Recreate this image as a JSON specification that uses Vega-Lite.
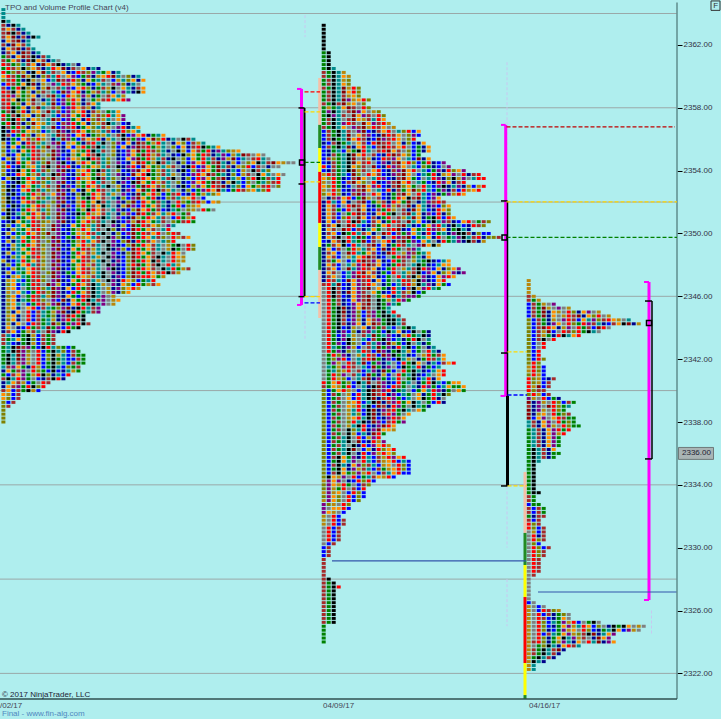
{"$schema":"https://vega.github.io/schema/vega-lite/v6.json","width":677,"height":699,"autosize":"none","padding":{"left":0,"top":0,"right":44,"bottom":20},"background":"#AFEEEE","config":{"view":{"stroke":null}},
"datasets":{
"p1":[
{"p":2364.25,"c":[5]},{"p":2364,"c":[5]},{"p":2363.75,"c":[5]},{"p":2363.5,"c":[4,5]},
{"p":2363.25,"c":[6,3,4,5]},{"p":2363,"c":[6,8,6,3,5]},{"p":2362.75,"c":[6,12,4,6,3,5]},{"p":2362.5,"c":[6,8,12,3,6,3,4,5]},
{"p":2362.25,"c":[3,8,6,12,3,5]},{"p":2362,"c":[6,3,12,8,6,5]},{"p":2361.75,"c":[3,8,6,12,3,6,5]},{"p":2361.5,"c":[3,6,8,3,12,6,3,5]},
{"p":2361.25,"c":[7,6,3,8,12,6,4,3,6,5]},{"p":2361,"c":[6,7,8,6,3,12,4,8,6,3,5,0]},{"p":2360.75,"c":[1,6,7,10,5,6,8,3,12,8,6,4,3,5,0,3]},{"p":2360.5,"c":[7,1,6,11,4,10,8,6,3,5,1,8,12,3,6,0,8,3,5,3]},
{"p":2360.25,"c":[1,7,10,6,11,3,4,8,12,5,6,0,8,3,2,1,6,10,9,5,7,8,3,5]},{"p":2360,"c":[8,1,6,7,12,11,4,3,10,6,5,1,0,8,9,2,7,6,3,11,8,1,12,5,0,10,3,5]},{"p":2359.75,"c":[10,6,1,7,3,4,11,0,8,2,5,12,6,9,1,10,3,8,7,5,6,0,2,11,5,10,8,3,8]},{"p":2359.5,"c":[2,1,6,7,8,4,12,3,11,0,9,5,1,6,8,10,7,3,2,11,5,0,6,9,10,3,5,0]},
{"p":2359.25,"c":[6,2,7,1,4,10,8,3,11,12,0,6,5,9,2,8,1,10,3,7,6,11,4,0,8,5,3,6,8]},{"p":2359,"c":[1,6,4,8,7,11,3,10,6,0,5,2,12,9,8,1,3,7,11,6,5,10,2,0,9,5,3,4,8]},{"p":2358.75,"c":[6,1,9,11,7,10,8,3,0,6,12,5,2,1,8,10,9,11,3,7,0,6,8,5,11]},{"p":2358.5,"c":[1,6,8,4,7,11,12,0,3,5,6,2,9,10,1,8,3,0,7,11,6,1,5,8,1,9]},
{"p":2358.25,"c":[6,1,7,10,3,8,6,0,11,5,12,2,9,7,1,10,3,6,8,5]},{"p":2358,"c":[6,1,4,7,8,3,11,12,5,0,6,10,2,9,1,8,6,11,3,5]},{"p":2357.75,"c":[7,6,4,10,1,3,11,8,0,12,5,6,2,9,10,8,1,3,6,11,0,7,5,8]},{"p":2357.5,"c":[1,7,6,4,11,8,3,10,12,0,5,2,6,9,8,7,1,3,11,6,10,1,5,8,9]},
{"p":2357.25,"c":[6,7,4,1,10,3,8,11,0,5,12,6,2,9,7,8,3,1,10,6,11,5,0,8,9]},{"p":2357,"c":[7,1,4,6,3,10,12,8,11,5,0,2,6,9,1,7,8,3,10,11,6,4,5,0,2,3]},{"p":2356.75,"c":[4,6,7,1,10,3,11,8,5,0,12,2,9,6,1,3,7,8,10,5,6,11,0,9,1,3,5,8]},{"p":2356.5,"c":[4,3,1,6,7,8,11,10,2,5,0,12,9,3,6,1,8,7,10,11,5,6,2,3,1,10,8,5]},
{"p":2356.25,"c":[4,6,2,7,1,10,3,11,8,0,5,12,6,9,2,8,1,3,7,10,11,5,0,6,4,2,9,8,1,3,7,5,8]},{"p":2356,"c":[4,3,7,2,8,6,10,1,11,0,3,5,12,9,7,2,6,8,10,1,3,11,5,0,4,6,7,9,2,8,12,10,1,3,5,0,4,6,5]},{"p":2355.75,"c":[11,2,7,8,3,1,6,10,5,0,9,12,2,11,8,7,3,6,1,5,4,0,10,9,2,8,3,12,6,7,11,1,5,0,3,8,10,2,6,11,5]},{"p":2355.5,"c":[11,3,8,2,7,6,1,5,10,12,0,9,3,8,2,11,1,7,6,4,5,0,10,2,8,3,9,12,6,1,7,11,5,0,10,2,8,3,6,1,4,7,5,8]},
{"p":2355.25,"c":[10,2,5,3,8,7,1,6,11,0,12,9,3,2,8,10,7,1,4,5,6,0,11,3,2,9,8,12,7,1,6,10,5,3,0,4,11,2,8,6,7,1,3,9,5,10,11,8]},{"p":2355,"c":[11,3,2,8,7,5,1,6,0,10,12,9,2,3,11,7,8,1,6,4,5,0,10,3,2,9,8,7,12,1,11,6,5,0,3,2,4,10,8,7,1,6,3,5,9,2,11,5,12,6,0,8,0]},{"p":2354.75,"c":[2,11,3,8,5,7,1,6,10,0,12,3,2,9,8,11,7,4,1,6,5,10,0,3,2,8,9,12,7,1,11,5,6,3,4,0,10,2,8,7,1,5,6,3,9,11,12,2,5,0,6,1,5,0]},{"p":2354.5,"c":[11,2,3,1,7,8,6,5,10,12,0,9,4,2,3,11,1,8,7,6,5,10,0,9,2,3,8,12,1,7,11,4,6,5,0,3,10,2,9,8,1,7,6,12,5,3,11,2,0,10,8,4,5,6,12,8,11,0,0]},
{"p":2354.25,"c":[10,1,2,3,7,11,8,5,6,4,0,12,9,1,3,2,10,7,8,11,5,6,0,4,3,9,1,2,12,8,7,10,5,11,6,0,3,4,1,2,9,8,7,12,5,6,3,11,10,1,2,6,0,3,0,0]},{"p":2354,"c":[11,2,3,4,8,7,1,5,6,10,0,9,12,3,2,11,8,1,7,4,6,5,0,10,2,3,9,12,8,1,7,11,6,5,0,3,4,2,10,9,1,8,7,12,6,3,5,2,11,0,4,6,5,10]},{"p":2353.75,"c":[10,3,2,1,8,7,11,6,5,0,4,12,9,2,3,10,1,8,7,6,11,5,0,9,3,2,12,8,1,4,7,10,6,5,11,0,3,2,9,1,8,12,6,7,5,3,10,2,11,6,0,4,8,5,0,8,0]},{"p":2353.5,"c":[2,11,4,3,7,1,8,5,6,10,12,0,9,3,2,1,11,8,7,4,6,5,10,0,3,9,2,12,1,8,7,11,5,6,4,0,3,10,2,1,9,8,7,6,12,3,5,11,2,10,1,4,7,6,5,1]},
{"p":2353.25,"c":[11,2,3,4,7,8,1,6,10,5,0,9,12,2,3,11,7,8,1,5,6,0,10,3,9,2,4,12,8,7,1,11,6,5,0,10,3,2,9,8,1,7,12,6,3,11,4,5,2,10,0,7,5,10,6,1]},{"p":2353,"c":[10,3,4,2,1,8,7,5,11,6,0,12,3,9,2,10,7,1,8,6,5,4,0,11,3,2,9,7,12,1,8,6,10,5,0,3,4,2,11,9,8,7,1,6,12,3,5,10,2,8,7,11,6,1,0,10]},{"p":2352.75,"c":[11,4,3,2,8,1,7,6,5,10,0,12,9,3,11,2,4,8,7,1,6,0,5,10,3,9,2,8,12,7,1,4,6,11,5,0,3,10,2,7,9,1,8,12,5,2,7,1,6,11,8,5,10,1]},{"p":2352.5,"c":[10,3,4,2,5,7,1,11,6,0,8,9,12,2,3,10,4,7,1,8,6,5,11,0,9,2,3,12,7,8,1,10,2,7,6,1,2,3,1,7,11,5,10,8]},
{"p":2352.25,"c":[11,4,2,3,1,7,8,6,10,5,0,12,9,3,2,11,7,4,1,8,6,0,5,3,10,2,9,12,8,7,1,3,2,10,6,5,11,8,1,0,2]},{"p":2352,"c":[11,4,3,2,8,1,6,7,5,0,10,9,12,2,3,11,1,7,8,4,6,5,0,9,3,10,12,2,1,8,7,6,5,3,0,1,10,7,6,1,11,2,8,11]},{"p":2351.75,"c":[10,2,4,3,5,7,8,1,6,11,0,12,3,9,2,10,1,7,6,8,4,5,0,3,11,12,9,2,1,7,8,6,5,3,7,1,2,10,11,8]},{"p":2351.5,"c":[11,4,3,2,7,1,8,6,5,10,0,9,12,3,2,7,11,4,1,8,6,0,5,9,3,2,10,12,8,1,7,6,2,3,5,7,0,10,11,0,1,7,0]},
{"p":2351.25,"c":[2,4,3,5,11,7,1,8,6,10,0,12,9,2,3,4,7,1,11,8,6,5,0,3,10,9,2,12,1,7,6,8,5,11,1,0,7,6]},{"p":2351,"c":[10,4,2,3,7,8,1,11,6,5,0,12,9,3,2,7,10,8,1,6,4,5,0,9,2,3,12,11,7,1,8,5,6,0,2,1,7,11,1]},{"p":2350.75,"c":[2,3,4,8,7,5,1,6,10,11,0,9,12,3,2,7,8,1,10,6,5,0,4,3,2,9,11,12,1,8,7,5,6,0,10,7,6,1,7]},{"p":2350.5,"c":[3,10,2,5,8,7,1,6,11,0,12,9,3,2,8,7,1,10,5,6,4,0,9,3,11,2,12,7,1,6,8,10,0,9,5]},
{"p":2350.25,"c":[2,3,11,5,7,8,6,1,10,0,12,9,2,3,7,11,1,8,5,6,0,4,10,3,9,2,12,1,7,8,6,0,5,1]},{"p":2350,"c":[3,11,2,7,5,1,8,6,10,12,0,9,3,2,7,8,11,1,6,5,4,0,3,10,2,9,12,7,1,6,8,1,0,10,1,6]},{"p":2349.75,"c":[2,3,11,5,8,7,1,6,10,0,12,9,2,7,3,1,11,8,5,6,0,4,9,10,3,2,12,7,1,8,5,6,10,0,1,11,6,8]},{"p":2349.5,"c":[2,11,3,5,1,7,8,6,0,10,9,12,2,3,7,11,1,5,8,6,4,0,9,2,10,12,3,1,7,6,8,0,5,10,1]},
{"p":2349.25,"c":[3,2,11,5,7,1,8,6,10,0,12,9,3,2,7,8,1,11,6,5,0,4,9,3,2,10,12,7,1,8,6,5,0,11,7,4,0,1,10]},{"p":2349,"c":[2,3,10,5,8,7,1,6,11,0,9,12,2,3,8,7,1,6,11,5,0,4,3,9,10,2,12,1,7,8,6,5,0,11,4,7,0,1,10]},{"p":2348.75,"c":[3,11,2,5,7,8,1,6,10,0,12,9,3,2,7,1,8,6,11,5,4,0,9,2,3,10,12,1,8,7,6,0,4,5,1,8,0]},{"p":2348.5,"c":[2,3,10,5,8,7,6,1,11,0,12,9,2,3,7,8,1,6,5,11,0,4,9,3,2,10,12,1,7,8,6,4,5,0,1,8,11]},
{"p":2348.25,"c":[11,3,2,5,1,7,8,6,10,0,9,12,3,2,8,7,1,6,11,5,4,0,3,9,2,10,12,7,1,8,4,6,5,0,1,11,11]},{"p":2348,"c":[3,10,2,7,8,1,5,6,11,0,12,9,2,3,7,8,1,11,6,5,0,4,9,3,2,10,1,12,7,8,6,4,0,1,5,11]},{"p":2347.75,"c":[3,2,11,7,5,8,1,6,10,0,9,12,3,2,7,8,1,6,11,5,0,9,4,3,2,10,12,7,1,8,6,0,4,5,1,7,11,6]},{"p":2347.5,"c":[3,11,2,5,7,8,1,6,0,10,12,9,3,7,2,8,1,6,11,5,4,0,9,3,2,10,12,1,7,1,8,6,1,4,6,11]},
{"p":2347.25,"c":[2,3,11,8,5,7,1,6,10,0,12,9,2,3,7,1,8,11,6,5,4,0,3,9,2,10,12,6,1,1,8,7,11]},{"p":2347,"c":[3,11,8,5,2,7,6,1,10,0,9,12,3,2,8,7,1,6,5,11,0,4,9,3,1,8,10,2,7,5,1]},{"p":2346.75,"c":[3,10,8,2,5,7,1,6,0,12,9,11,2,3,7,1,8,6,4,5,11,0,9,3,8,10,2,1,7,11,6,8]},{"p":2346.5,"c":[3,11,8,2,0,7,6,1,10,5,12,9,3,8,2,1,7,6,4,5,0,11,3,9,10,8,1,11]},
{"p":2346.25,"c":[3,11,0,8,5,2,7,1,6,10,12,9,3,2,1,7,8,6,4,5,0,11,9,3,10,8]},{"p":2346,"c":[3,10,8,2,0,7,1,6,5,11,12,9,3,8,7,2,1,6,4,5,9,0,11]},{"p":2345.75,"c":[3,11,8,3,5,7,1,6,10,0,9,2,12,3,8,7,1,4,5,6,9,0,11,8]},{"p":2345.5,"c":[3,10,8,5,0,2,7,1,6,11,9,12,3,2,8,1,7,6,4,5,9,0,11]},
{"p":2345.25,"c":[3,11,8,3,0,8,1,2,6,5,7,10,9,12,3,4,1,5,6,9]},{"p":2345,"c":[3,10,3,8,0,1,2,6,5,7,11,9,12,3,4,1,7,5,6,9]},{"p":2344.75,"c":[3,11,8,3,0,1,2,6,5,7,10,3,9,12,1,7,4]},{"p":2344.5,"c":[3,10,8,3,0,1,2,6,7,5,11,3,9,1,7,6,4]},
{"p":2344.25,"c":[3,11,3,8,0,2,1,6,7,5,12,10,3,7,9,1,4,6]},{"p":2344,"c":[3,8,0,3,2,1,7,6,5,12,7,9,2,1,7,4]},{"p":2343.75,"c":[3,6,8,2,7,11,6,5,0,12,9,3,1,4]},{"p":2343.5,"c":[6,5,2,3,7,4,11,2,6,7,6]},
{"p":2343.25,"c":[6,7,5,8,7,4,10,2,6,7,6]},{"p":2343,"c":[6,5,2,3,7,4,11,2,6,7,6]},{"p":2342.75,"c":[7,5,4,12,6,9,7,2,4,1,5,10,7,2,7]},{"p":2342.5,"c":[7,5,4,12,9,10,0,1,2,7,4,5,10,2,6,7]},
{"p":2342.25,"c":[7,4,5,12,9,11,0,1,2,10,4,11,5,2,6,7,7]},{"p":2342,"c":[7,4,5,12,9,11,0,1,2,10,4,7,5,2,2,6,7]},{"p":2341.75,"c":[7,4,5,6,9,11,0,1,2,7,4,10,5,2,6,7,7]},{"p":2341.5,"c":[5,6,9,8,7,3,1,11,2,7,4,5,2,10,7,6]},
{"p":2341.25,"c":[3,8,7,6,9,0,1,10,7,2,4,2,3,5,11,7]},{"p":2341,"c":[7,2,6,8,9,7,11,1,4,10,3,5,2,1]},{"p":2340.75,"c":[6,4,5,1,9,7,0,2,3,6,4,1,3]},{"p":2340.5,"c":[3,5,8,6,11,2,7,0,1,6]},
{"p":2340.25,"c":[3,8,6,9,7,1,4,10,1]},{"p":2340,"c":[6,8,2,6,7,4,11,2]},{"p":2339.75,"c":[8,11,2,6]},{"p":2339.5,"c":[8,10,2,6]},
{"p":2339.25,"c":[10,2,6]},{"p":2339,"c":[10,6]},{"p":2338.75,"c":[10]},{"p":2338.5,"c":[10]},{"p":2338.25,"c":[10]},{"p":2338,"c":[10]}],
"p2":[
{"p":2363.25,"c":[4]},{"p":2363,"c":[4]},{"p":2362.75,"c":[4]},{"p":2362.5,"c":[4]},{"p":2362.25,"c":[4]},{"p":2362,"c":[4]},{"p":2361.75,"c":[4]},
{"p":2361.5,"c":[7,4]},{"p":2361.25,"c":[7,4]},{"p":2361,"c":[7,4]},{"p":2360.75,"c":[7,4]},{"p":2360.5,"c":[7,4,5]},{"p":2360.25,"c":[6,7,4,5,11]},
{"p":2360,"c":[6,7,4,5,8,11]},{"p":2359.75,"c":[7,6,4,5,11,10]},{"p":2359.5,"c":[7,6,4,5,8,10]},{"p":2359.25,"c":[6,7,4,5,12,11,1,10]},{"p":2359,"c":[7,6,4,5,12,8,1,10]},{"p":2358.75,"c":[7,6,4,5,6,11,8,10]},
{"p":2358.5,"c":[7,6,4,5,12,9,11,8,1,10]},{"p":2358.25,"c":[6,7,4,6,12,11,8,0,10]},{"p":2358,"c":[7,11,7,5,8,12,6,0,1,10]},{"p":2357.75,"c":[7,9,4,5,0,6,12,9,8,0,11,10]},{"p":2357.5,"c":[7,4,9,5,6,0,12,8,9,6,0,1,10]},{"p":2357.25,"c":[7,6,4,5,0,6,12,8,11,6,5,1,8]},
{"p":2357,"c":[7,6,4,5,9,1,6,0,12,8,9,6,1,11]},{"p":2356.75,"c":[6,7,4,5,8,0,9,6,12,11,1,6,8,0,11]},{"p":2356.5,"c":[2,6,7,4,5,6,0,9,12,2,3,6,8,1,0,5,10,1,2,8]},{"p":2356.25,"c":[2,6,7,4,5,12,0,8,6,9,2,3,12,1,6,8,0,10,9,2]},{"p":2356,"c":[2,6,4,7,5,12,8,1,6,3,2,12,9,6,1,8,0,10,1]},
{"p":2355.75,"c":[3,2,6,4,7,5,0,8,6,2,1,12,6,1,0,8,3,10,2,3,8]},{"p":2355.5,"c":[2,6,7,4,5,12,3,8,1,5,2,6,12,1,6,8,1,0,2,7,3,8]},{"p":2355.25,"c":[2,3,7,5,2,11,7,4,1,5,0,6,1,12,8,6,0,10,2,7,3,8]},{"p":2355,"c":[2,3,6,7,5,4,12,8,1,0,6,2,3,1,12,6,8,10,2,7]},
{"p":2354.75,"c":[2,6,10,7,5,4,12,0,6,11,3,2,1,6,9,8,0,5,2,12,3,8]},{"p":2354.5,"c":[2,3,6,7,5,4,12,8,6,1,0,2,9,3,6,12,8,1,10,2,7,1,3,2,9]},{"p":2354.25,"c":[1,2,6,7,5,4,8,10,6,0,12,2,3,1,9,6,8,0,5,2,10,7,3,2,0,9]},{"p":2354,"c":[2,3,6,7,5,4,12,11,6,0,8,1,2,3,6,9,12,8,1,0,5,2,7,9,3,1,10,8,9]},
{"p":2353.75,"c":[11,1,6,7,5,2,12,10,0,1,8,6,2,3,9,6,12,8,0,2,5,7,1,3,11,8,9,0,1,3,6,1]},{"p":2353.5,"c":[8,10,1,7,3,2,6,12,8,0,5,1,9,2,3,6,12,8,7,2,0,5,1,9,3,10,4,11,9,0,5,1,1]},{"p":2353.25,"c":[11,0,1,7,2,6,12,8,10,0,1,3,2,9,6,12,8,1,0,5,7,2,3,1,9,8,3,6,1]},{"p":2353,"c":[8,10,1,7,3,2,0,6,12,8,9,1,2,3,6,12,10,8,7,0,1,5,2,9,4,3,5,9,3,11,2,11,1]},
{"p":2352.75,"c":[11,0,1,10,2,3,9,6,12,8,0,5,2,1,3,6,7,8,12,10,1,5,2,7,9,3,6,2,1,11,8,1]},{"p":2352.5,"c":[10,8,1,10,3,2,6,12,9,0,1,8,2,3,7,6,12,8,0,1,5,2,9,3,7,9,11,1,8]},{"p":2352.25,"c":[0,3,6,9,8,1,2,7,12,11,0,6,2,3,7,1,8,4,6,12,5,2,9,8]},{"p":2352,"c":[3,1,5,2,8,3,0,6,12,2,7,11,6,3,1,8,7,12,0,3,5,9,6,1,6]},
{"p":2351.75,"c":[3,8,6,2,0,1,12,6,8,2,3,7,1,9,11,6,0,12,3,8,5,3,9,2,10,8]},{"p":2351.5,"c":[3,8,6,7,2,1,0,12,8,3,2,6,7,1,11,0,6,3,12,8,5,2,3,1,8,10]},{"p":2351.25,"c":[3,8,6,2,0,7,1,12,6,2,3,8,1,7,4,0,6,12,5,8,3,9,2,1,3,10]},
{"p":2351,"c":[3,8,6,2,10,1,0,12,8,2,6,3,7,1,0,6,11,5,12,8,3,7,4,1,2,1,8]},{"p":2350.75,"c":[3,8,2,6,0,1,4,12,5,2,6,8,3,7,1,6,0,12,5,8,2,3,4,5,9,6,3,2,8,1,0,7,6,10]},{"p":2350.5,"c":[3,6,8,4,0,12,1,5,2,3,6,7,8,1,0,6,12,5,3,2,7,8,9,1,5,3,4,5,2,3,1,6,10]},
{"p":2350.25,"c":[3,8,6,0,12,1,2,6,3,5,8,7,0,6,1,12,3,2,8,7,5,1,9,6,8,3,7,4,5,3]},{"p":2350,"c":[3,6,8,2,4,7,1,5,6,8,3,0,12,1,2,6,7,9,8,5,3,1,2,7,5,3,9,4,4,6,3,10,2,2]},{"p":2349.75,"c":[3,8,6,4,0,1,5,12,7,2,6,8,3,0,1,9,6,12,2,7,5,8,3,1,0,7,5,9,4,5,6,1,3,10,10,6]},
{"p":2349.5,"c":[2,3,8,6,4,1,5,7,12,2,6,0,8,1,3,6,12,7,9,2,8,5,0,3,1,7,5,9,3,4,6,3,11]},{"p":2349.25,"c":[3,7,6,8,4,2,1,5,0,6,12,2,8,3,7,1,6,5,0,9,12,8,4,11]},{"p":2349,"c":[3,8,2,6,0,7,1,11,5,6,8,2,12,3,1,7,0,6,9,5]},
{"p":2348.75,"c":[3,6,8,2,0,12,1,5,7,8,6,2,3,12,1,0,11,9,6,7,5,8]},{"p":2348.5,"c":[3,8,6,2,0,11,5,8,1,12,6,3,2,0,7,1,6,9,10,5,3,8]},{"p":2348.25,"c":[3,6,7,8,0,2,5,1,12,6,9,8,3,2,1,7,6,0,11,5,7,4,3,2,5,8]},
{"p":2348,"c":[3,8,6,2,0,5,11,9,1,12,6,8,2,3,7,1,6,0,5,4,7,3,2,5,8,8]},{"p":2347.75,"c":[3,6,8,2,0,12,5,9,1,6,8,3,2,7,1,0,11,5,6,4,1,9,2,8,3,10,8,9]},{"p":2347.5,"c":[3,8,6,0,2,5,9,1,12,8,6,3,7,2,1,0,5,11,6,4,2,9,8,3,10,8,9,3,9]},
{"p":2347.25,"c":[3,6,8,0,2,5,9,12,1,6,8,3,2,7,0,1,5,6,4,11,9,3,2,8,9,1,8]},{"p":2347,"c":[3,1,6,5,2,12,8,9,6,1,3,8,2,7,0,5,1,6,11,4,9,3,2,8,1]},{"p":2346.75,"c":[6,1,5,12,2,3,8,9,6,1,8,0,3,7,2,5,6,1,11,4,5,9,3,8,7,2]},
{"p":2346.5,"c":[0,1,4,6,2,3,8,9,6,12,0,8,7,3,1,5,2,6,4,11,9,1,5,7]},{"p":2346.25,"c":[0,1,4,6,3,12,8,9,6,0,8,7,3,2,1,5,6,11,4,2,7]},{"p":2346,"c":[0,1,4,6,2,3,8,9,6,12,0,7,8,1,3,5,6,9,9,7]},
{"p":2345.75,"c":[0,1,7,6,3,2,8,9,6,12,0,4,7,11,5,1,9,7]},{"p":2345.5,"c":[0,1,7,6,3,2,9,8,6,12,0,4,7,9,5,7]},{"p":2345.25,"c":[0,1,7,4,12,3,9,8,12,6,0,4,7,5]},{"p":2345,"c":[0,1,7,4,12,3,9,10,2,6,9,7,4,5,1]},
{"p":2344.75,"c":[0,1,7,4,6,3,9,10,2,6,9,7,4,4,5,6]},{"p":2344.5,"c":[0,1,7,4,6,2,9,11,3,8,6,9,7,4,4,5,6]},{"p":2344.25,"c":[0,1,7,4,6,3,9,8,3,8,12,6,7,4,4,5,6]},
{"p":2344,"c":[0,1,7,4,2,3,11,0,8,3,6,7,6,5,2,0,7,4,5]},{"p":2343.75,"c":[0,1,7,3,9,2,10,3,6,9,5,7,2,4,5,8,3,2,4,0,7,3]},{"p":2343.5,"c":[0,1,7,2,9,5,11,0,6,5,12,7,5,9,2,3,11,1,7,5,4,3]},{"p":2343.25,"c":[0,1,7,3,9,4,11,0,5,2,6,7,4,9,2,5,3,7,1,4,0,5]},
{"p":2343,"c":[0,1,7,9,2,4,10,0,2,6,5,9,3,12,11,7,2,4,0,5,3,7]},{"p":2342.75,"c":[0,1,5,7,3,9,11,2,0,6,5,12,7,9,3,1,5,4,2,7,0,3,5]},{"p":2342.5,"c":[0,1,7,9,3,10,0,5,1,6,2,12,9,3,7,4,5,11,2,7,0,1,5,3]},
{"p":2342.25,"c":[0,7,1,10,9,3,0,11,5,1,6,2,12,9,4,7,5,3,2,0,11,1,7,6,8]},{"p":2342,"c":[0,7,10,9,1,2,0,5,6,1,12,7,3,9,2,4,5,11,0,3,7,1,6,5,8]},{"p":2341.75,"c":[0,7,9,11,0,1,6,5,12,2,7,9,3,5,0,2,1,7,4,8,0,3,5,2,6,8,1]},
{"p":2341.5,"c":[0,5,7,11,9,1,6,0,5,2,12,7,3,9,0,2,4,7,5,1,3,7,2,5]},{"p":2341.25,"c":[0,7,5,10,11,1,0,6,2,5,9,3,12,7,2,0,1,7,4,5,3,2,5,8,1]},{"p":2341,"c":[0,7,1,10,9,0,6,5,2,12,7,3,11,2,0,1,7,5,4,3,2,5,0,8,1]},
{"p":2340.75,"c":[0,7,1,11,10,2,0,5,6,12,3,9,7,2,5,1,0,7,4,2,5,1,3,8]},{"p":2340.5,"c":[1,7,8,1,7,10,2,4,5,12,0,6,9,3,2,1,7,5,0,3,7,1,4,5,2,7,8,8]},{"p":2340.25,"c":[6,7,8,11,7,1,2,0,5,3,4,12,9,2,1,6,7,0,5,3,1,9,7,2,5,8,7,7,8]},
{"p":2340,"c":[10,2,7,8,1,11,0,2,5,4,12,6,9,1,3,7,5,0,2,7,8,5,1,9,3,7,0,8,7]},{"p":2339.75,"c":[10,2,6,7,0,11,2,1,5,4,12,6,1,3,9,2,5,7,0,8,3,7,1,5,4,10]},{"p":2339.5,"c":[10,2,7,6,0,8,2,1,5,4,12,3,6,1,9,7,2,5,0,8,4,7,1,3,0]},
{"p":2339.25,"c":[10,2,6,7,0,11,8,1,2,5,4,12,3,6,9,1,7,8,4,5,0,7,2,1,3]},{"p":2339,"c":[10,2,7,6,0,8,11,1,5,4,2,12,6,3,1,9,7,0,4,5,7,3]},{"p":2338.75,"c":[10,2,6,7,0,11,5,1,2,4,12,3,9,6,1,7,4,5,0,8,7]},
{"p":2338.5,"c":[10,2,7,6,0,11,5,10,2,4,12,3,6,1,9,7,0,8]},{"p":2338.25,"c":[10,2,6,7,0,11,8,1,5,4,12,2,3,9,1,6,8]},{"p":2338,"c":[10,2,7,6,0,10,1,5,4,3,12,9,2,6,1,7,9]},
{"p":2337.75,"c":[10,2,6,7,0,11,5,4,1,2,3,9,12,1,8]},{"p":2337.5,"c":[10,2,7,6,0,4,10,5,1,3,9,12,8,8,11]},{"p":2337.25,"c":[10,2,6,7,0,4,11,2,5,3,12,1,7]},{"p":2337,"c":[10,2,7,6,5,4,0,1,2,11,9,1]},
{"p":2336.75,"c":[10,2,6,7,5,4,0,12,2,3,1,11,9]},{"p":2336.5,"c":[10,2,7,6,5,0,4,3,1,2,9,8,1,11]},{"p":2336.25,"c":[10,2,6,7,5,4,12,0,2,11,3,1,10,8,1]},{"p":2336,"c":[10,2,7,6,5,4,0,3,1,2,9,11,1,8,10]},
{"p":2335.75,"c":[10,2,6,4,8,7,9,3,1,5,2,6,11,1,9,8,1]},{"p":2335.5,"c":[10,2,7,4,8,5,9,0,1,5,2,6,11,8,1,2,5,2]},{"p":2335.25,"c":[10,2,6,4,5,3,8,9,10,6,5,2,11,8,0,1,10,2]},{"p":2335,"c":[10,2,7,4,8,3,9,11,6,5,2,6,7,11,8,1,10,2]},
{"p":2334.75,"c":[10,2,6,4,8,7,10,9,11,1,0,2,6,5,8,1,2,2]},{"p":2334.5,"c":[10,4,8,11,9,0,1,2,7,5,6,8,11,1,2]},{"p":2334.25,"c":[11,9,8,9,0,3,2,1,10,1,2]},{"p":2334,"c":[10,9,8,11,1,7,0,2,6,10]},{"p":2333.75,"c":[10,9,11,7,1,0,6,2,1]},
{"p":2333.5,"c":[11,9,11,8,0,2,1,10,2]},{"p":2333.25,"c":[10,9,8,10,0,1,2,10,2]},{"p":2333,"c":[11,9,8,10,0,1,2,10]},{"p":2332.75,"c":[9,10,11,0,1,10]},{"p":2332.5,"c":[9,0,8,8,1,2]},{"p":2332.25,"c":[9,8,11,0,2]},{"p":2332,"c":[11,0,1,2]},
{"p":2331.75,"c":[11,0,1,2,6]},{"p":2331.5,"c":[11,0,1,2,6]},{"p":2331.25,"c":[0,1,2,6]},{"p":2331,"c":[0,1,2,6]},{"p":2330.75,"c":[0,1,2,6]},{"p":2330.5,"c":[0,1,2,6]},{"p":2330.25,"c":[0,2,6]},{"p":2330,"c":[2,6]},{"p":2329.75,"c":[2,6]},
{"p":2329.5,"c":[2,6]},{"p":2329.25,"c":[6]},{"p":2329,"c":[6]},{"p":2328.75,"c":[6]},{"p":2328.5,"c":[6]},{"p":2328.25,"c":[6]},{"p":2328,"c":[6,4]},{"p":2327.75,"c":[6,7,4]},{"p":2327.5,"c":[6,7,4,1]},
{"p":2327.25,"c":[6,7,4]},{"p":2327,"c":[6,7,4]},{"p":2326.75,"c":[6,7,4]},{"p":2326.5,"c":[6,7,4]},{"p":2326.25,"c":[6,7,4]},{"p":2326,"c":[6,7,4]},{"p":2325.75,"c":[6,7,4]},{"p":2325.5,"c":[6,7,4]},{"p":2325.25,"c":[6,7,4]},
{"p":2325,"c":[7]},{"p":2324.75,"c":[7]},{"p":2324.5,"c":[7]},{"p":2324.25,"c":[7]},{"p":2324,"c":[7]}],
"p3":[
{"p":2347,"c":[11]},{"p":2346.75,"c":[11]},{"p":2346.5,"c":[11]},{"p":2346.25,"c":[11]},{"p":2346,"c":[6,11]},{"p":2345.75,"c":[6,7,11]},
{"p":2345.5,"c":[2,6,7,11,0,9]},{"p":2345.25,"c":[2,6,7,12,11,0,9,0,11]},{"p":2345,"c":[2,6,7,12,3,8,11,0,1,10,3,8,9,0,11]},{"p":2344.75,"c":[2,6,7,12,3,8,0,11,1,6,12,3,8,10,1,0,11]},
{"p":2344.5,"c":[10,2,6,7,3,11,0,9,1,6,2,8,5,9,10,6,1,8,11,0,5]},{"p":2344.25,"c":[10,2,6,7,3,9,8,0,1,10,7,1,9,6,5,3,2,6,8,4,12,3,11]},{"p":2344,"c":[10,2,6,12,1,8,3,11,9,0,1,7,6,2,12,1,0]},{"p":2343.75,"c":[10,2,6,11,12,2,0,1,6,10,1,7,4,5,0]},
{"p":2343.5,"c":[10,2,6,11,7,3,1,4,5,8,1]},{"p":2343.25,"c":[10,2,6,4,0,1]},{"p":2343,"c":[10,2,0,1]},{"p":2342.75,"c":[10,2,0,1]},{"p":2342.5,"c":[10,2,1]},{"p":2342.25,"c":[10,2,1]},{"p":2342,"c":[10,2,1,10]},{"p":2341.75,"c":[10,1,10]},
{"p":2341.5,"c":[11,1,10,2]},{"p":2341.25,"c":[11,1,10,2]},{"p":2341,"c":[10,1,11,2]},{"p":2340.75,"c":[1,10,11,2,3,6]},{"p":2340.5,"c":[1,10,11,2,6]},{"p":2340.25,"c":[1,11,12,2,6]},{"p":2340,"c":[1,10,6,6]},{"p":2339.75,"c":[10,1,11,2,6]},
{"p":2339.5,"c":[9,11,0,1,2,7,3]},{"p":2339.25,"c":[12,3,9,11,0,1,10,2,6,7]},{"p":2339,"c":[6,3,9,0,12,1,10,7,5]},{"p":2338.75,"c":[12,3,9,11,0,1,10,7]},{"p":2338.5,"c":[12,3,11,8,0,1,7,10,6]},{"p":2338.25,"c":[12,2,8,9,0,8,1,6,7,7]},
{"p":2338,"c":[5,6,3,8,9,0,1,7,10,7]},{"p":2337.75,"c":[5,6,3,8,9,11,0,1,10,7,7]},{"p":2337.5,"c":[7,5,6,3,8,9,1,7,1]},{"p":2337.25,"c":[7,5,6,3,8,9,11,1]},{"p":2337,"c":[7,5,6,3,8,9,7]},{"p":2336.75,"c":[7,5,6,3,8,9,7]},{"p":2336.5,"c":[7,5,6,3,8,9,7]},
{"p":2336.25,"c":[7,4,5,6,3,8]},{"p":2336,"c":[7,4,5,6,3,7,7]},{"p":2335.75,"c":[7,4,5,6,3,7]},{"p":2335.5,"c":[7,4,5]},{"p":2335.25,"c":[7,4]},{"p":2335,"c":[7,4]},{"p":2334.75,"c":[7,4]},{"p":2334.5,"c":[7,4]},{"p":2334.25,"c":[7,4]},{"p":2334,"c":[7,4]},{"p":2333.75,"c":[7,4]},
{"p":2333.5,"c":[7,4,4]},{"p":2333.25,"c":[6,7]},{"p":2333,"c":[6,7]},{"p":2332.75,"c":[2,7,7]},{"p":2332.5,"c":[6,2,6,7]},{"p":2332.25,"c":[6,2,6,7]},{"p":2332,"c":[7,3,6,6]},{"p":2331.75,"c":[6,2,6]},{"p":2331.5,"c":[1,10,6]},{"p":2331.25,"c":[1,10,2,6]},
{"p":2331,"c":[0,11,2,6]},{"p":2330.75,"c":[0,1,3,6]},{"p":2330.5,"c":[0,1,10,6]},{"p":2330.25,"c":[0,10,2]},{"p":2330,"c":[0,1,10,2,6]},{"p":2329.75,"c":[0,1,10,6]},{"p":2329.5,"c":[0,1,10,6]},{"p":2329.25,"c":[0,1,6]},{"p":2329,"c":[0,1,6]},{"p":2328.75,"c":[0,1,6]},{"p":2328.5,"c":[0,1,6]},
{"p":2328.25,"c":[0,6]},{"p":2328,"c":[0]},{"p":2327.75,"c":[0]},{"p":2327.5,"c":[0]},{"p":2327.25,"c":[0]},{"p":2327,"c":[0]},{"p":2326.75,"c":[0]},{"p":2326.5,"c":[2,0]},{"p":2326.25,"c":[11,0,2,0]},{"p":2326,"c":[11,0,2,1,6,10,11]},
{"p":2325.75,"c":[11,0,1,2,6,3,7,10,0]},{"p":2325.5,"c":[11,0,1,6,2,3,7,8,0]},{"p":2325.25,"c":[11,0,1,10,2,5,7,9,11,1,2,0,7,4,0]},{"p":2325,"c":[11,0,1,10,2,3,7,8,9,11,5,1,8,2,10,0,3,4,7,4,8,0,11,0]},{"p":2324.75,"c":[11,0,1,10,3,2,7,9,11,8,0,1,10,2,3,7,5,4,8,2,9,11,0]},
{"p":2324.5,"c":[11,0,1,2,6,5,7,8,9,11,10,6,4,12,3,5,8,9]},{"p":2324.25,"c":[11,0,1,10,3,7,8,4,5,9,11,6,0,3,12,8,9]},{"p":2324,"c":[11,6,1,10,3,7,11,9,5,3,8,0,1,5,12,3,9,8]},{"p":2323.75,"c":[11,0,7,10,4,5,3,8,1,6,5]},{"p":2323.5,"c":[11,6,7,4,5,6,12,3]},
{"p":2323.25,"c":[11,6,7,4,5,6,3]},{"p":2323,"c":[11,7,4,5,6,3]},{"p":2322.75,"c":[11,4,5,3]},{"p":2322.5,"c":[11,5]},{"p":2322.25,"c":[11,5]}],
"grid":[{"y":2364},{"y":2358},{"y":2352},{"y":2346},{"y":2340},{"y":2334},{"y":2328},{"y":2322}],
"rules":[
{"x":63.94,"x2":63.94,"y":2359.9,"y2":2356.91,"c":"#F5C0A8","w":3},{"x":63.94,"x2":63.94,"y":2356.91,"y2":2355.44,"c":"#228B22","w":3},{"x":63.94,"x2":63.94,"y":2355.44,"y2":2353.92,"c":"#FFFF00","w":3},{"x":63.94,"x2":63.94,"y":2353.92,"y2":2350.67,"c":"#FF0000","w":3},{"x":63.94,"x2":63.94,"y":2350.67,"y2":2349.14,"c":"#FFFF00","w":3},{"x":63.94,"x2":63.94,"y":2349.14,"y2":2347.68,"c":"#228B22","w":3},{"x":63.94,"x2":63.94,"y":2347.68,"y2":2344.62,"c":"#F5C0A8","w":3},
{"x":105,"x2":105,"y":2334.82,"y2":2330.94,"c":"#F5C0A8","w":3},{"x":105,"x2":105,"y":2330.94,"y2":2328.9,"c":"#228B22","w":3},{"x":105,"x2":105,"y":2328.9,"y2":2326.86,"c":"#FFFF00","w":3},{"x":105,"x2":105,"y":2326.86,"y2":2322.66,"c":"#FF0000","w":3},{"x":105,"x2":105,"y":2322.66,"y2":2320.62,"c":"#FFFF00","w":3},{"x":105,"x2":105,"y":2320.62,"y2":2320.37,"c":"#228B22","w":3},
{"x":60.3,"x2":60.3,"y":2359.2,"y2":2345.45,"c":"#FF00FF","w":3},{"x":59.4,"x2":60.3,"y":2359.2,"y2":2359.2,"c":"#FF00FF","w":2},{"x":59.4,"x2":60.3,"y":2345.45,"y2":2345.45,"c":"#FF00FF","w":2},
{"x":60.9,"x2":60.9,"y":2357.99,"y2":2345.98,"c":"#000000","w":2},{"x":59.7,"x2":60.9,"y":2357.99,"y2":2357.99,"c":"#000000","w":1.5},{"x":59.7,"x2":60.9,"y":2353.15,"y2":2353.15,"c":"#000000","w":1.5},{"x":59.7,"x2":60.9,"y":2345.98,"y2":2345.98,"c":"#000000","w":1.5},
{"x":101.14,"x2":101.14,"y":2356.91,"y2":2339.66,"c":"#FF00FF","w":3},{"x":100.2,"x2":101.14,"y":2356.91,"y2":2356.91,"c":"#FF00FF","w":2},{"x":100.1,"x2":101.14,"y":2339.66,"y2":2339.66,"c":"#FF00FF","w":2},
{"x":101.5,"x2":101.5,"y":2352.07,"y2":2339.66,"c":"#000000","w":1.5},{"x":101.5,"x2":101.5,"y":2339.66,"y2":2333.93,"c":"#000000","w":3},{"x":100.2,"x2":101.5,"y":2352.07,"y2":2352.07,"c":"#000000","w":1.5},{"x":100.2,"x2":101.5,"y":2342.39,"y2":2342.39,"c":"#000000","w":1.5},{"x":100.2,"x2":101.5,"y":2333.93,"y2":2333.93,"c":"#000000","w":1.5},
{"x":129.8,"x2":129.8,"y":2346.91,"y2":2326.67,"c":"#FF00FF","w":3},{"x":128.8,"x2":129.8,"y":2346.91,"y2":2346.91,"c":"#FF00FF","w":2},{"x":128.8,"x2":129.8,"y":2326.67,"y2":2326.67,"c":"#FF00FF","w":2},
{"x":130.4,"x2":130.4,"y":2345.7,"y2":2335.65,"c":"#000000","w":1.5},{"x":129,"x2":130.4,"y":2345.7,"y2":2345.7,"c":"#000000","w":1.5},{"x":129,"x2":130.4,"y":2335.65,"y2":2335.65,"c":"#000000","w":1.5},
{"x":66.4,"x2":105.2,"y":2329.16,"y2":2329.16,"c":"#3355AA","w":1.2},{"x":107.6,"x2":135.4,"y":2327.18,"y2":2327.18,"c":"#3355AA","w":1.2},
{"x":135.4,"x2":135.4,"y":2364.7,"y2":2320.37,"c":"#5F8C8C","w":1.5},{"x":0,"x2":135.4,"y":2320.37,"y2":2320.37,"c":"#2F4F4F","w":1.5}],
"dashed":[
{"x":60.9,"x2":64,"y":2359.01,"y2":2359.01,"c":"#FF0000"},{"x":60.9,"x2":64,"y":2357.74,"y2":2357.74,"c":"#FFD700"},{"x":60.9,"x2":64,"y":2354.52,"y2":2354.52,"c":"#008000"},{"x":60.9,"x2":64,"y":2353.28,"y2":2353.28,"c":"#FFD700"},{"x":60.9,"x2":64,"y":2345.98,"y2":2345.98,"c":"#FFD700"},{"x":60.9,"x2":64,"y":2345.58,"y2":2345.58,"c":"#0000FF"},
{"x":101.3,"x2":135,"y":2356.78,"y2":2356.78,"c":"#C00000"},{"x":101.3,"x2":135.4,"y":2352.01,"y2":2352.01,"c":"#FFD700"},{"x":101.3,"x2":135.4,"y":2349.75,"y2":2349.75,"c":"#008000"},
{"x":101.5,"x2":105.4,"y":2342.46,"y2":2342.46,"c":"#FFD700"},{"x":101.5,"x2":105.4,"y":2339.72,"y2":2339.72,"c":"#0000FF"},{"x":101.5,"x2":105.4,"y":2333.93,"y2":2333.93,"c":"#FFD700"}],
"faint":[{"x":61,"y":2363.9,"y2":2362.5},{"x":61,"y":2345.4,"y2":2343.2},{"x":101.4,"y":2360.9,"y2":2350},{"x":101.4,"y":2333.9,"y2":2330},{"x":101.4,"y":2328,"y2":2325},{"x":130.3,"y":2326,"y2":2324.5}],
"poc":[{"x":60.4,"y":2354.52},{"x":100.9,"y":2349.75},{"x":129.8,"y":2344.3}]
},
"layer":[
{"data":{"name":"grid"},"mark":{"type":"rule","color":"#9AA8A8","strokeWidth":1},"encoding":{"y":{"field":"y","type":"quantitative","scale":{"domain":[2320.37,2364.86],"nice":false,"zero":false},"axis":{"orient":"right","values":[2322,2324,2326,2328,2330,2332,2334,2336,2338,2340,2342,2344,2346,2348,2350,2352,2354,2356,2358,2360,2362,2364],"labelExpr":"datum.value>2363?'':format(datum.value,'.2f')","title":null,"grid":false,"domain":false,"tickColor":"#000000","tickSize":5,"labelFont":"Liberation Sans","labelFontSize":8,"labelColor":"#333344","labelPadding":1}}}},
{"data":{"name":"p1"},"transform":[{"flatten":["c"]},{"window":[{"op":"row_number","as":"idx"}],"groupby":["p"]}],"mark":{"type":"point","filled":true,"opacity":1,"shape":"M-1,-0.75H1V0.75H-1Z","size":16},"encoding":{"x":{"field":"idx","type":"quantitative","scale":{"domain":[0.32,135.72],"nice":false,"zero":false},"axis":null},"y":{"field":"p","type":"quantitative"},"fill":{"field":"c","type":"ordinal","legend":null,"scale":{"domain":[0,1,2,3,4,5,6,7,8,9,10,11,12],"range":["#808080","#FF0000","#0000FF","#00008B","#000000","#008B8B","#A52A2A","#008000","#FF8C00","#800080","#808000","#B8860B","#8B0000"]}}}},
{"data":{"name":"p2"},"transform":[{"flatten":["c"]},{"window":[{"op":"row_number","as":"idx"}],"groupby":["p"]}],"mark":{"type":"point","filled":true,"opacity":1,"shape":"M-1,-0.75H1V0.75H-1Z","size":16},"encoding":{"x":{"field":"idx","type":"quantitative","scale":{"domain":[-63.74,71.66],"nice":false,"zero":false},"axis":null},"y":{"field":"p","type":"quantitative"},"fill":{"field":"c","type":"ordinal","legend":null}}},
{"data":{"name":"p3"},"transform":[{"flatten":["c"]},{"window":[{"op":"row_number","as":"idx"}],"groupby":["p"]}],"mark":{"type":"point","filled":true,"opacity":1,"shape":"M-1,-0.75H1V0.75H-1Z","size":16},"encoding":{"x":{"field":"idx","type":"quantitative","scale":{"domain":[-104.74,30.66],"nice":false,"zero":false},"axis":null},"y":{"field":"p","type":"quantitative"},"fill":{"field":"c","type":"ordinal","legend":null}}},
{"data":{"name":"faint"},"mark":{"type":"rule","color":"#C8C8F0","strokeWidth":1,"strokeDash":[3,2]},"encoding":{"x":{"field":"x","type":"quantitative","scale":{"domain":[0,135.4],"nice":false,"zero":false},"axis":null},"y":{"field":"y","type":"quantitative"},"y2":{"field":"y2"}}},
{"data":{"name":"rules"},"mark":{"type":"rule"},"encoding":{"x":{"field":"x","type":"quantitative","scale":{"domain":[0,135.4],"nice":false,"zero":false},"axis":null},"x2":{"field":"x2"},"y":{"field":"y","type":"quantitative"},"y2":{"field":"y2"},"stroke":{"field":"c","type":"nominal","scale":null},"size":{"field":"w","type":"quantitative","scale":null}}},
{"data":{"name":"dashed"},"mark":{"type":"rule","strokeWidth":1.3,"strokeDash":[4,2]},"encoding":{"x":{"field":"x","type":"quantitative","scale":{"domain":[0,135.4],"nice":false,"zero":false},"axis":null},"x2":{"field":"x2"},"y":{"field":"y","type":"quantitative"},"y2":{"field":"y2"},"stroke":{"field":"c","type":"nominal","scale":null}}},
{"data":{"name":"poc"},"mark":{"type":"point","shape":"square","filled":false,"opacity":1,"color":"#000000","strokeWidth":1.5,"size":25},"encoding":{"x":{"field":"x","type":"quantitative","scale":{"domain":[0,135.4],"nice":false,"zero":false},"axis":null},"y":{"field":"y","type":"quantitative"}}},
{"data":{"values":[{"x":135.7,"x2":142.7,"y":2336.38,"y2":2335.62}]},"mark":{"type":"rect","fill":"#A9B4B4","stroke":"#555555","strokeWidth":0.7},"encoding":{"x":{"field":"x","type":"quantitative","scale":{"domain":[0,135.4],"nice":false,"zero":false},"axis":null},"x2":{"field":"x2"},"y":{"field":"y","type":"quantitative"},"y2":{"field":"y2"}}},
{"data":{"values":[{"x":142.2,"x2":144,"y":2364.8,"y2":2364.2}]},"mark":{"type":"rect","fill":"#AFEEEE","stroke":"#333333","strokeWidth":1},"encoding":{"x":{"field":"x","type":"quantitative","scale":{"domain":[0,135.4],"nice":false,"zero":false},"axis":null},"x2":{"field":"x2"},"y":{"field":"y","type":"quantitative"},"y2":{"field":"y2"}}},
{"data":{"values":[{"t":"TPO and Volume Profile Chart (v4)","x":1,"y":2364.36,"o":"#444455"},{"t":"© 2017 NinjaTrader, LLC","x":0.4,"y":2320.62,"o":"#222233"},{"t":"/02/17","x":0,"y":2319.92,"o":"#444455"},{"t":"04/09/17","x":64.6,"y":2319.92,"o":"#444455"},{"t":"04/16/17","x":105.8,"y":2319.92,"o":"#444455"},{"t":"Final - www.fin-alg.com","x":0.4,"y":2319.41,"o":"#4F88C0"},{"t":"2336.00","x":136.4,"y":2336,"o":"#222233"},{"t":"F","x":142.65,"y":2364.5,"o":"#333333"}]},"mark":{"type":"text","align":"left","baseline":"middle","font":"Liberation Sans","fontSize":8},"encoding":{"x":{"field":"x","type":"quantitative","scale":{"domain":[0,135.4],"nice":false,"zero":false},"axis":null},"y":{"field":"y","type":"quantitative"},"text":{"field":"t"},"stroke":{"value":null},"fill":{"field":"o","type":"nominal","scale":null}}}
],
"resolve":{"scale":{"x":"independent","fill":"shared"}}}
